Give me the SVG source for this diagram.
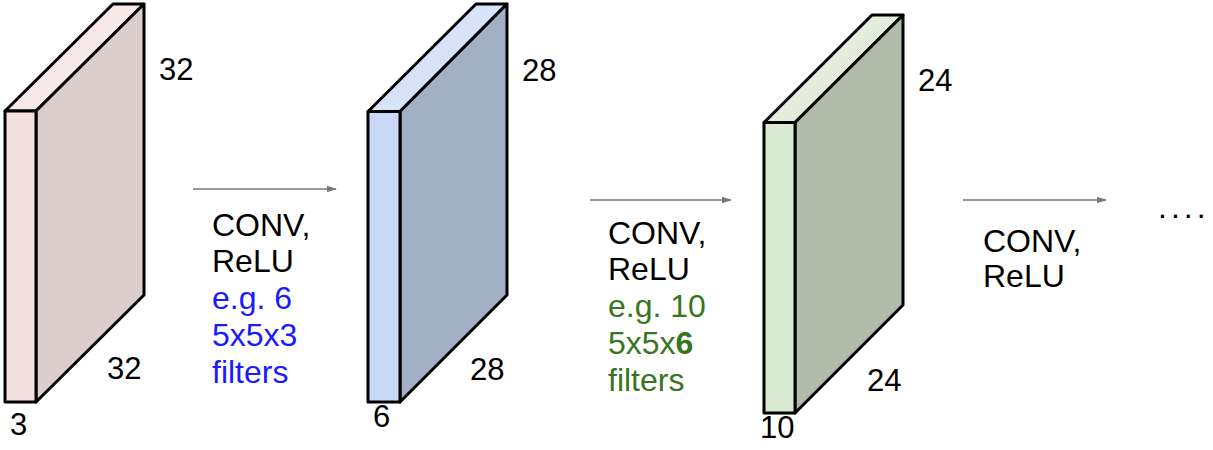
<svg xmlns="http://www.w3.org/2000/svg" width="1213" height="450" viewBox="0 0 1213 450">
<style>
.t{font-family:"Liberation Sans",Arial,sans-serif;font-size:32px;fill:#000}
.n{font-size:31px}
.b{fill:#1a1aff}
.g{fill:#38761d}
.e{stroke:#000;stroke-width:3;stroke-linejoin:round}
.c{stroke:#777;stroke-width:1.5;fill:none}
</style>
<defs>
<marker id="ah" markerWidth="10" markerHeight="8" refX="9" refY="4" orient="auto" markerUnits="userSpaceOnUse">
<path d="M0,0.8 L10,4 L0,7.2 Z" fill="#777"/>
</marker>
</defs>
<rect width="1213" height="450" fill="#fff"/>
<g id="connectors">
<line class="c" x1="193" y1="189" x2="336" y2="189" marker-end="url(#ah)"/>
<line class="c" x1="590" y1="200" x2="731" y2="200" marker-end="url(#ah)"/>
<line class="c" x1="963" y1="200" x2="1106" y2="200" marker-end="url(#ah)"/>
</g>
<g id="vol1">
<polygon class="e" points="5,111 113,4 144,4 36,111" fill="#f9e8e8"/>
<polygon class="e" points="36,111 144,4 144,295 36,402" fill="#ddcece"/>
<rect class="e" x="5" y="111" width="31" height="291" fill="#f4e0e0"/>
<text class="t n" x="159" y="80">32</text>
<text class="t n" x="107" y="379">32</text>
<text class="t n" x="10" y="435">3</text>
</g>
<g id="vol2">
<polygon class="e" points="368,111.5 476,4 507,4 400,111.5" fill="#d6e3f8"/>
<polygon class="e" points="400,111.5 507,4 507,295 400,402" fill="#a2b0c6"/>
<rect class="e" x="368" y="111.5" width="32" height="290.5" fill="#c9daf8"/>
<text class="t n" x="522" y="81">28</text>
<text class="t n" x="470" y="380">28</text>
<text class="t n" x="373" y="427">6</text>
</g>
<g id="vol3">
<polygon class="e" points="764,122.5 872,15 903,15 795,122.5" fill="#e1eedc"/>
<polygon class="e" points="795,122.5 903,15 903,305 795,413" fill="#b0bbaa"/>
<rect class="e" x="764" y="122.5" width="31" height="290.5" fill="#d9ead3"/>
<text class="t n" x="918" y="91">24</text>
<text class="t n" x="867" y="391">24</text>
<text class="t n" x="760" y="438">10</text>
</g>
<g id="label1">
<text class="t" x="212" y="236">CONV,</text>
<text class="t" x="212" y="272">ReLU</text>
<text class="t b" x="212" y="309">e.g. 6</text>
<text class="t b" x="212" y="346">5x5x3</text>
<text class="t b" x="212" y="383">filters</text>
</g>
<g id="label2">
<text class="t" x="608" y="244">CONV,</text>
<text class="t" x="608" y="280">ReLU</text>
<text class="t g" x="608" y="317">e.g. 10</text>
<text class="t g" x="608" y="354">5x5x<tspan font-weight="bold">6</tspan></text>
<text class="t g" x="608" y="391">filters</text>
</g>
<g id="label3">
<text class="t" x="983" y="252">CONV,</text>
<text class="t" x="983" y="287">ReLU</text>
</g>
<g id="dots">
<text class="t" x="1158" y="218" letter-spacing="4">....</text>
</g>
</svg>
